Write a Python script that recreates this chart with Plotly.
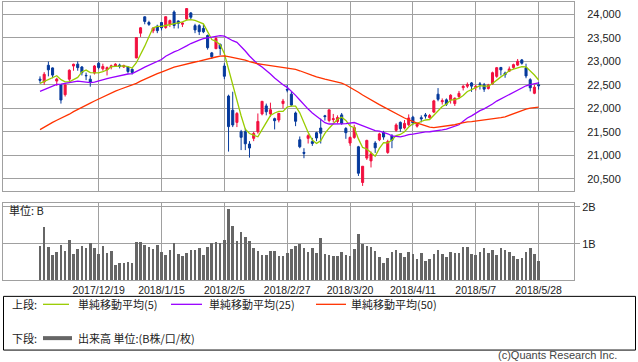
import plotly.graph_objects as go

# ---------------- data ----------------
dates = [
    "2017/11/29", "2017/11/30", "2017/12/1", "2017/12/4", "2017/12/5", "2017/12/6", "2017/12/7", "2017/12/8",
    "2017/12/11", "2017/12/12", "2017/12/13", "2017/12/14", "2017/12/15", "2017/12/18", "2017/12/19", "2017/12/20",
    "2017/12/21", "2017/12/22", "2017/12/25", "2017/12/26", "2017/12/27", "2017/12/28", "2017/12/29",
    "2018/1/4", "2018/1/5", "2018/1/9", "2018/1/10", "2018/1/11", "2018/1/12", "2018/1/15", "2018/1/16",
    "2018/1/17", "2018/1/18", "2018/1/19", "2018/1/22", "2018/1/23", "2018/1/24", "2018/1/25", "2018/1/26",
    "2018/1/29", "2018/1/30", "2018/1/31", "2018/2/1", "2018/2/2", "2018/2/5", "2018/2/6", "2018/2/7",
    "2018/2/8", "2018/2/9", "2018/2/13", "2018/2/14", "2018/2/15", "2018/2/16", "2018/2/19", "2018/2/20",
    "2018/2/21", "2018/2/22", "2018/2/23", "2018/2/26", "2018/2/27", "2018/2/28", "2018/3/1", "2018/3/2",
    "2018/3/5", "2018/3/6", "2018/3/7", "2018/3/8", "2018/3/9", "2018/3/12", "2018/3/13", "2018/3/14",
    "2018/3/15", "2018/3/16", "2018/3/19", "2018/3/20", "2018/3/22", "2018/3/23", "2018/3/26", "2018/3/27",
    "2018/3/28", "2018/3/29", "2018/3/30", "2018/4/2", "2018/4/3", "2018/4/4", "2018/4/5", "2018/4/6",
    "2018/4/9", "2018/4/10", "2018/4/11", "2018/4/12", "2018/4/13", "2018/4/16", "2018/4/17", "2018/4/18",
    "2018/4/19", "2018/4/20", "2018/4/23", "2018/4/24", "2018/4/25", "2018/4/26", "2018/4/27", "2018/5/1",
    "2018/5/2", "2018/5/7", "2018/5/8", "2018/5/9", "2018/5/10", "2018/5/11", "2018/5/14", "2018/5/15",
    "2018/5/16", "2018/5/17", "2018/5/18", "2018/5/21", "2018/5/22", "2018/5/23", "2018/5/24", "2018/5/25",
    "2018/5/28",
]

open_ = [
    22620, 22560, 22916, 22860, 22580, 22500, 22290, 22620, 22900, 22940, 22880, 22700, 22620, 22750, 22960,
    22840, 22820, 22880, 22900, 22920, 22880, 22880, 22830, 23073, 23600, 23948, 23827, 23650, 23750, 23827,
    23720, 23788, 24050, 23860, 23790, 23900, 24030, 23760, 23760, 23700, 23550, 23180, 23270, 23360, 22900,
    22260, 21960, 21700, 21500, 21500, 21240, 21360, 21500, 21880, 22050, 21880, 21780, 21750, 22100, 22400,
    22300, 21900, 21330, 21060, 21360, 21290, 21480, 21580, 21840, 21740, 21760, 21720, 21860, 21570, 21260,
    21380, 21180, 20420, 20940, 20880, 21260, 21330, 21480, 21060, 21410, 21530, 21700, 21580, 21650, 21810,
    21620, 21800, 21860, 21800, 21920, 22300, 22140, 22180, 22180, 22100, 22250, 22440, 22470, 22540, 22440,
    22520, 22500, 22420, 22520, 22680, 22870, 22750, 22790, 22870, 22920, 23030, 22860, 22610, 22320, 22500,
]
high = [
    22680, 22770, 22994, 22870, 22650, 22510, 22510, 22830, 22950, 23000, 22900, 22760, 22700, 22920, 22990,
    22950, 22890, 22930, 22960, 22950, 22930, 22900, 22850, 23506, 23730, 23952, 23864, 23720, 23780, 23830,
    23952, 23890, 24084, 23870, 23830, 24129, 24050, 23800, 23790, 23790, 23570, 23200, 23520, 23380, 22960,
    22290, 22353, 21920, 21540, 21570, 21300, 21500, 21890, 22149, 22100, 22120, 21800, 21900, 22200, 22502,
    22350, 21930, 21400, 21150, 21450, 21370, 21500, 21780, 21860, 21968, 21880, 21850, 21900, 21600, 21400,
    21650, 21200, 20766, 21330, 21080, 21300, 21480, 21520, 21330, 21450, 21680, 21720, 21750, 21870, 21840,
    21700, 21850, 21900, 21880, 22180, 22430, 22210, 22210, 22300, 22230, 22370, 22500, 22550, 22560, 22500,
    22560, 22540, 22520, 22780, 22880, 22880, 22780, 22890, 22950, 23050, 23050, 22950, 22640, 22500, 22560,
]
low = [
    22530, 22500, 22680, 22640, 22480, 22100, 22250, 22580, 22800, 22800, 22700, 22600, 22460, 22720, 22830,
    22800, 22700, 22830, 22880, 22850, 22860, 22740, 22720, 23065, 23520, 23789, 23755, 23600, 23600, 23660,
    23693, 23730, 23700, 23700, 23730, 23880, 23900, 23600, 23560, 23600, 23250, 23050, 23260, 23130, 22620,
    21078, 21600, 21600, 21110, 21110, 20950, 21300, 21460, 21850, 21850, 21820, 21550, 21700, 22000, 22340,
    22040, 21620, 21150, 20937, 21250, 21200, 21300, 21250, 21740, 21700, 21700, 21680, 21650, 21350, 21200,
    21350, 20559, 20347, 20900, 20740, 21050, 21300, 21330, 21030, 21150, 21500, 21500, 21550, 21620, 21640,
    21590, 21700, 21780, 21780, 21900, 22150, 22080, 22050, 22100, 22050, 22200, 22380, 22430, 22350, 22380,
    22400, 22350, 22400, 22500, 22650, 22700, 22650, 22780, 22840, 22900, 22930, 22640, 22360, 22300, 22400,
]
close = [
    22597, 22724, 22819, 22707, 22622, 22177, 22498, 22811, 22938, 22866, 22758, 22694, 22553, 22901, 22868,
    22891, 22866, 22902, 22939, 22892, 22911, 22783, 22764, 23506, 23714, 23849, 23788, 23710, 23653, 23714,
    23951, 23868, 23763, 23808, 23816, 24124, 23940, 23669, 23631, 23629, 23291, 23098, 23486, 23274, 22682,
    21610, 21645, 21890, 21382, 21244, 21154, 21464, 21720, 22149, 21925, 21970, 21736, 21892, 22153, 22389,
    22068, 21724, 21181, 21042, 21417, 21253, 21368, 21469, 21824, 21968, 21777, 21803, 21676, 21480, 21380,
    21591, 20617, 20766, 21317, 21031, 21159, 21454, 21388, 21292, 21319, 21645, 21567, 21678, 21794, 21687,
    21660, 21778, 21835, 21847, 22158, 22191, 22162, 22088, 22278, 22215, 22319, 22467, 22508, 22472, 22467,
    22508, 22408, 22497, 22758, 22865, 22818, 22717, 22838, 22930, 23002, 22960, 22689, 22437, 22450, 22481,
]

# closes of the 49 sessions before the window (needed for the moving averages)
prior_close = [
    19909, 20299, 20310, 20347, 20296, 20397, 20330, 20267, 20363, 20356,
    20400, 20614, 20626, 20628, 20690, 20823, 20881, 20954, 21155, 21255,
    21336, 21363, 21448, 21457, 21696, 21805, 21707, 21739, 22008, 22011,
    22011, 22420, 22539, 22548, 22937, 22913, 22869, 22681, 22381, 22380,
    22028, 22351, 22397, 22261, 22416, 22523, 22551, 22495, 22486,
]

# volume, billions of shares
volume = [
    0.95, 1.46, 0.92, 0.70, 0.78, 0.99, 0.81, 1.11, 0.73, 0.88, 0.95, 0.89, 1.03, 0.89, 0.73,
    0.95, 0.76, 0.81, 0.43, 0.49, 0.49, 0.51, 0.49, 1.05, 1.05, 0.97, 0.92, 0.86, 0.99, 0.78,
    0.70, 0.84, 1.03, 0.73, 0.68, 0.76, 0.84, 0.84, 0.89, 0.70, 0.92, 1.03, 1.05, 1.03, 1.11,
    1.97, 1.50, 1.08, 1.32, 1.19, 1.08, 0.89, 0.81, 0.70, 0.70, 0.81, 0.81, 0.68, 0.68, 0.76,
    0.86, 0.95, 1.00, 0.89, 0.78, 0.89, 0.76, 1.17, 0.72, 0.70, 0.68, 0.68, 0.78, 0.70, 0.68,
    0.86, 1.27, 1.00, 0.95, 0.92, 0.81, 0.65, 0.49, 0.62, 0.78, 0.84, 0.76, 0.65, 0.78, 0.73,
    0.59, 0.76, 0.54, 0.59, 0.73, 0.84, 0.73, 0.65, 0.78, 0.76, 0.76, 0.92, 0.92, 0.73, 0.70,
    0.78, 0.89, 0.76, 0.84, 0.70, 0.89, 0.84, 0.78, 0.68, 0.59, 0.62, 0.78, 0.89, 0.73, 0.54,
]

grid_dates = ["2017/12/19", "2018/1/15", "2018/2/5", "2018/2/27", "2018/3/20", "2018/4/11", "2018/5/7", "2018/5/28"]
price_ticks = [20500, 21000, 21500, 22000, 22500, 23000, 23500, 24000]
vol_ticks = [1, 2]
vol_tick_labels = ["1B", "2B"]
ma_periods = [5, 25, 50]
ma_names = ["単純移動平均(5)", "単純移動平均(25)", "単純移動平均(50)"]

# ---------------- styles ----------------
W, H = 638, 362
RED = "#f2103f"
BLUE = "#063a9c"
MA_COLORS = ["#99cc00", "#9900ff", "#ff3300"]
GRID = "#a0a0a0"
FONT = "Liberation Sans, Arial, sans-serif"
JP = "Noto Sans CJK JP"


def px(x):
    return x / W


def py(y):
    return 1 - y / H


full = prior_close + close


def moving_average(n):
    out = []
    off = len(prior_close)
    for i in range(len(close)):
        seg = full[off + i - n + 1: off + i + 1]
        out.append(sum(seg) / n)
    return out


fig = go.Figure()

fig.add_trace(go.Candlestick(
    x=dates, open=open_, high=high, low=low, close=close,
    increasing=dict(line=dict(color=RED, width=1), fillcolor=RED),
    decreasing=dict(line=dict(color=BLUE, width=1), fillcolor=BLUE),
    whiskerwidth=0, showlegend=False, xaxis="x", yaxis="y",
))

for n, col in zip(ma_periods, MA_COLORS):
    fig.add_trace(go.Scatter(
        x=dates, y=moving_average(n), mode="lines",
        line=dict(color=col, width=1.3), showlegend=False, xaxis="x", yaxis="y",
    ))

fig.add_trace(go.Bar(
    x=dates, y=volume, marker=dict(color="#666666", line=dict(width=0)),
    width=0.62, showlegend=False, xaxis="x2", yaxis="y2",
))

xr = [-8.83, 127.45]
xcommon = dict(
    type="category", range=xr, domain=[px(3), px(574)],
    tickmode="array", tickvals=grid_dates, ticktext=grid_dates,
    showgrid=True, gridcolor=GRID, gridwidth=1,
    showline=True, linecolor=GRID, linewidth=1, mirror=True,
    zeroline=False, ticks="", rangeslider=dict(visible=False), fixedrange=True,
)

fig.update_layout(
    width=W, height=H, margin=dict(l=0, r=0, t=0, b=0),
    paper_bgcolor="white", plot_bgcolor="white",
    bargap=0, showlegend=False,
    xaxis=dict(xcommon, anchor="y", showticklabels=False),
    xaxis2=dict(xcommon, anchor="y2", showticklabels=True,
                tickfont=dict(family=FONT, size=10.5, color="#222")),
    yaxis=dict(
        domain=[py(190), py(0.5)], range=[20240, 24253], side="right",
        tickmode="array", tickvals=price_ticks,
        ticktext=[f"{v:,}" for v in price_ticks],
        tickfont=dict(family=FONT, size=11, color="#222"),
        showgrid=True, gridcolor=GRID, gridwidth=1, zeroline=False,
        showline=True, linecolor=GRID, linewidth=1, mirror=True,
        ticks="outside", ticklen=10, tickcolor="rgba(0,0,0,0)", anchor="x",
    ),
    yaxis2=dict(
        domain=[py(280), py(201.7)], range=[0, 2.12], side="right",
        tickmode="array", tickvals=vol_ticks, ticktext=vol_tick_labels,
        tickfont=dict(family=FONT, size=11, color="#222"),
        showgrid=True, gridcolor=GRID, gridwidth=1, zeroline=False,
        showline=True, linecolor=GRID, linewidth=1, mirror=True,
        ticks="outside", ticklen=5, tickcolor=GRID, anchor="x2",
    ),
)

ROW1, ROW2 = 304, 338
shapes = [
    dict(type="rect", xref="paper", yref="paper", x0=px(3.5), x1=px(635.5), y0=py(350), y1=py(296),
         line=dict(color="#000", width=1), fillcolor="rgba(0,0,0,0)"),
]
leg_lines = [(43, 69), (171, 202), (316, 346)]
for (a, b), col in zip(leg_lines, MA_COLORS):
    shapes.append(dict(type="line", xref="paper", yref="paper", x0=px(a), x1=px(b), y0=py(ROW1), y1=py(ROW1),
                       line=dict(color=col, width=1.3)))
shapes.append(dict(type="line", xref="paper", yref="paper", x0=px(43), x1=px(72), y0=py(ROW2), y1=py(ROW2),
                   line=dict(color="#666666", width=4)))
fig.update_layout(shapes=shapes)

ann = []


def text(x, y, s, anchor="left", size=11, color="#222", family=JP):
    ann.append(dict(xref="paper", yref="paper", x=px(x), y=py(y), text=s, showarrow=False,
                    xanchor=anchor, yanchor="middle", borderpad=0,
                    font=dict(family=family, size=size, color=color)))


text(8, 209, "単位: B")
text(11, ROW1, "上段:")
for x0, name in zip([77, 208, 350], ma_names):
    text(x0, ROW1, name)
text(11, ROW2, "下段:")
text(77, ROW2, "出来高 単位:(B株/口/枚)")
text(618, 355, "(c)Quants Research Inc.", anchor="right", size=11, color="#444", family=FONT)
fig.update_layout(annotations=ann)

fig.write_html(
    "out.html",
    config={"displayModeBar": False},
    post_script="document.body.style.margin='0';document.body.style.padding='0';",
)
